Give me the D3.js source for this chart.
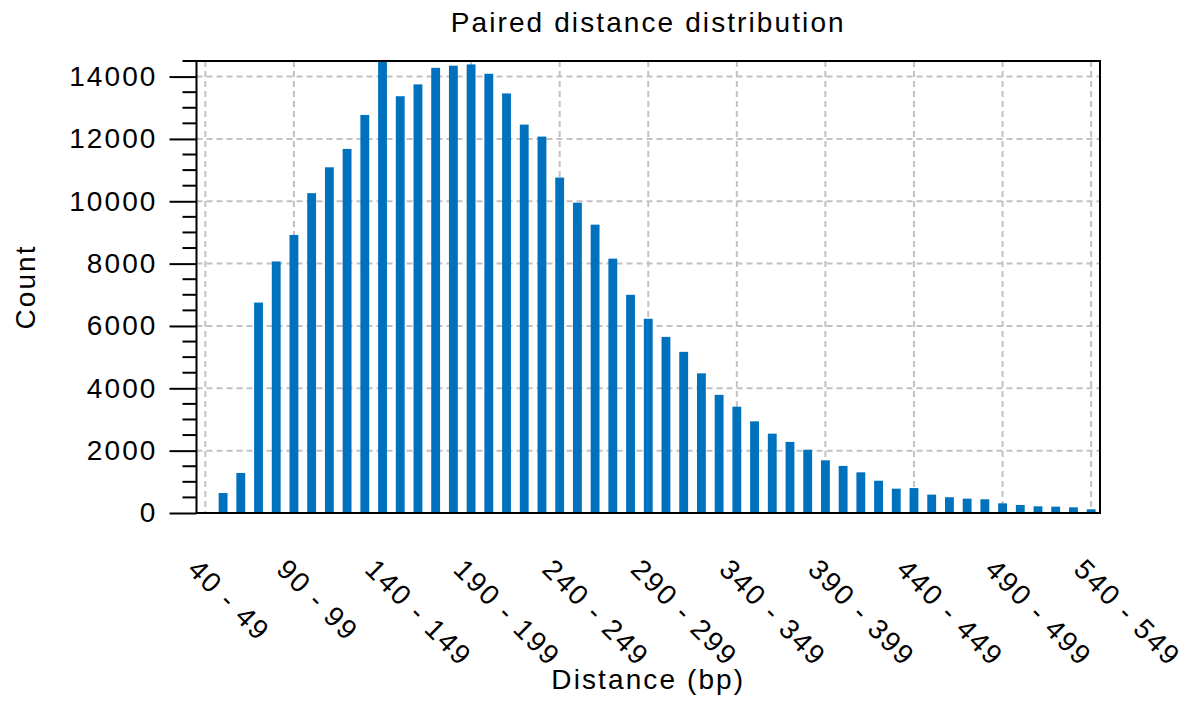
<!DOCTYPE html>
<html>
<head>
<meta charset="utf-8">
<script src="https://cdn.jsdelivr.net/npm/d3@7"></script>
<style>
    body { margin: 0; background: #fff; }
    text { font-family: "Liberation Sans", Arial, sans-serif; fill: #000; }
</style>
</head>
<body>
<div id="chart"></div>
<script>
const categories = [
    '40 - 49', '50 - 59', '60 - 69', '70 - 79', '80 - 89',
    '90 - 99', '100 - 109', '110 - 119', '120 - 129', '130 - 139',
    '140 - 149', '150 - 159', '160 - 169', '170 - 179', '180 - 189',
    '190 - 199', '200 - 209', '210 - 219', '220 - 229', '230 - 239',
    '240 - 249', '250 - 259', '260 - 269', '270 - 279', '280 - 289',
    '290 - 299', '300 - 309', '310 - 319', '320 - 329', '330 - 339',
    '340 - 349', '350 - 359', '360 - 369', '370 - 379', '380 - 389',
    '390 - 399', '400 - 409', '410 - 419', '420 - 429', '430 - 439',
    '440 - 449', '450 - 459', '460 - 469', '470 - 479', '480 - 489',
    '490 - 499', '500 - 509', '510 - 519', '520 - 529', '530 - 539',
    '540 - 549'
];

const counts = [
    0, 640, 1285, 6750, 8070,
    8920, 10260, 11090, 11680, 12770,
    14500, 13370, 13750, 14280, 14350,
    14390, 14090, 13460, 12460, 12075,
    10760, 9955, 9250, 8160, 7000,
    6230, 5650, 5170, 4480, 3790,
    3410, 2940, 2545, 2280, 2030,
    1690, 1510, 1305, 1035, 780,
    800, 590, 505, 460, 440,
    310, 258, 214, 203, 182,
    118
];

const xTickLabels = ['40 - 49', '90 - 99', '140 - 149', '190 - 199', '240 - 249',
    '290 - 299', '340 - 349', '390 - 399', '440 - 449', '490 - 499', '540 - 549'];
const yTicks = [0, 2000, 4000, 6000, 8000, 10000, 12000, 14000];
const yMax = 14500;

const width = 1189;
const height = 704;
const margin = {top: 61, bottom: 191, left: 196.5, right: 89};
const plotWidth = width - margin.left - margin.right;
const plotHeight = height - margin.top - margin.bottom;

const fontSize = 28;
const spacing = '2.1px';
const blue = '#0072bd';
const gridColor = '#c2c2c2';

const x = d3.scalePoint()
    .domain(categories)
    .range([0, plotWidth])
    .padding(0.5);

const y = d3.scaleLinear()
    .domain([0, yMax])
    .range([plotHeight, 0]);

const barWidth = x.step() * 0.5;

const svg = d3.select('#chart')
    .append('svg')
    .attr('width', width)
    .attr('height', height);

const g = svg.append('g')
    .attr('transform', `translate(${margin.left},${margin.top})`);

// grid
g.append('g')
    .selectAll('line')
    .data(yTicks.filter(d => d > 0))
    .join('line')
    .attr('x1', 0)
    .attr('x2', plotWidth)
    .attr('y1', d => y(d))
    .attr('y2', d => y(d))
    .attr('stroke', gridColor)
    .attr('stroke-width', 2)
    .attr('stroke-dasharray', '6,4');

g.append('g')
    .selectAll('line')
    .data(xTickLabels)
    .join('line')
    .attr('x1', d => x(d))
    .attr('x2', d => x(d))
    .attr('y1', 0)
    .attr('y2', plotHeight)
    .attr('stroke', gridColor)
    .attr('stroke-width', 2)
    .attr('stroke-dasharray', '6,4');

// bars
g.append('g')
    .selectAll('rect')
    .data(categories)
    .join('rect')
    .attr('x', d => x(d) - barWidth / 2)
    .attr('width', barWidth)
    .attr('y', (d, i) => y(counts[i]))
    .attr('height', (d, i) => plotHeight - y(counts[i]))
    .attr('fill', blue);

// box
g.append('path')
    .attr('d', `M0,0H${plotWidth}V${plotHeight}H0Z`)
    .attr('fill', 'none')
    .attr('stroke', '#000')
    .attr('stroke-width', 2);

// y axis, major and minor ticks
const yMinor = d3.range(0, yMax + 1, 500).filter(d => d % 2000 !== 0);

g.append('g')
    .selectAll('line')
    .data(yMinor)
    .join('line')
    .attr('x1', -14)
    .attr('x2', 0)
    .attr('y1', d => y(d))
    .attr('y2', d => y(d))
    .attr('stroke', '#000')
    .attr('stroke-width', 2);

const yAxis = d3.axisLeft(y)
    .tickValues(yTicks)
    .tickFormat(d3.format('d'))
    .tickSize(27)
    .tickPadding(12);

g.append('g')
    .attr('class', 'y axis')
    .call(yAxis)
    .call(s => s.select('.domain').remove())
    .call(s => s.selectAll('line').attr('stroke', '#000').attr('stroke-width', 2))
    .call(s => s.selectAll('text')
        .attr('font-size', fontSize)
        .attr('letter-spacing', spacing)
        .style('font-family', '"Liberation Sans", Arial, sans-serif'));

// x tick labels
g.append('g')
    .selectAll('text')
    .data(xTickLabels)
    .join('text')
    .attr('transform', d => `translate(${x(d) - 19},${plotHeight + 58}) rotate(45)`)
    .attr('font-size', fontSize)
    .attr('letter-spacing', spacing)
    .text(d => d);

// titles
svg.append('text')
    .attr('x', margin.left + plotWidth / 2)
    .attr('y', 32)
    .attr('text-anchor', 'middle')
    .attr('font-size', fontSize)
    .attr('letter-spacing', spacing)
    .text('Paired distance distribution');

svg.append('text')
    .attr('x', margin.left + plotWidth / 2)
    .attr('y', 689)
    .attr('text-anchor', 'middle')
    .attr('font-size', fontSize)
    .attr('letter-spacing', spacing)
    .text('Distance (bp)');

svg.append('text')
    .attr('transform', `translate(35,${margin.top + plotHeight / 2}) rotate(-90)`)
    .attr('text-anchor', 'middle')
    .attr('font-size', fontSize)
    .attr('letter-spacing', spacing)
    .text('Count');
</script>
</body>
</html>
